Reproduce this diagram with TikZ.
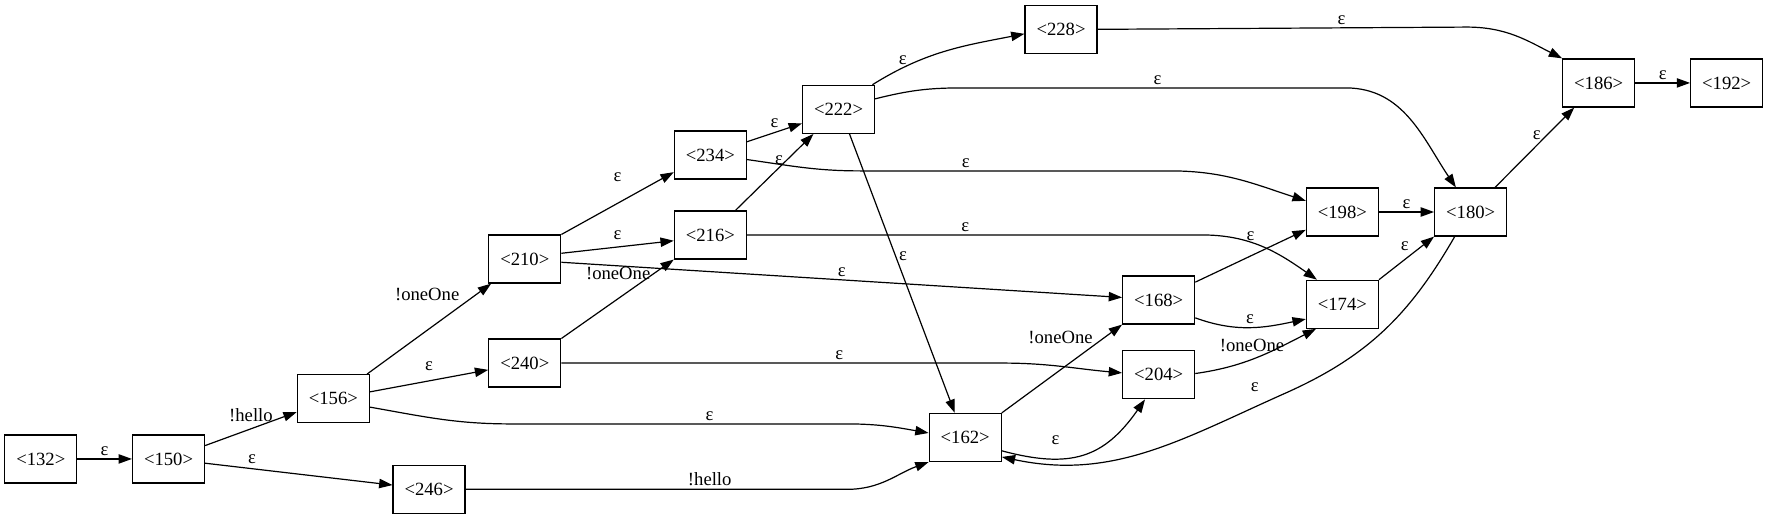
\documentclass[tikz,border=0pt]{standalone}
\usepackage{fontspec}
\setmainfont{Liberation Serif}
\usetikzlibrary{arrows.meta}
\usetikzlibrary{positioning}
\tikzset{>={Triangle[length=10pt,width=7pt]}, on grid, font=\fontsize{14}{14}\selectfont}
\tikzstyle{state} = [draw, rectangle, minimum width=54pt, minimum height=36pt, inner sep=0pt]
\tikzstyle{lbl} = [inner sep=2pt]

\begin{document}
\begin{tikzpicture}[line width=0.9pt]
    \useasboundingbox (0,0) rectangle (1326pt,-389.25pt);
    \node [state] at (30.6pt,-344.2pt) (s132) {<132>};
    \node [state, right=95.8pt of s132] (s150) {<150>};
    \node [state, above right=45.2pt and 123.6pt of s150] (s156) {<156>};
    \node [state, below right=22.8pt and 195.4pt of s150] (s246) {<246>};
    \node [state, above right=104.7pt and 143.6pt of s156] (s210) {<210>};
    \node [state, above right=26.7pt and 143.6pt of s156] (s240) {<240>};
    \node [state, above right=78pt and 139.2pt of s210] (s234) {<234>};
    \node [state, below=59.9pt of s234] (s216) {<216>};
    \node [state, above right=34.3pt and 96.1pt of s234] (s222) {<222>};
    \node [state, above right=60pt and 166.9pt of s222] (s228) {<228>};
    \node [state, below right=246.1pt and 95pt of s222] (s162) {<162>};
    \node [state, above right=103.1pt and 145.1pt of s162] (s168) {<168>};
    \node [state, below=56.1pt of s168] (s204) {<204>};
    \node [state, above right=66pt and 137.8pt of s168] (s198) {<198>};
    \node [state, below=69.2pt of s198] (s174) {<174>};
    \node [state, right=96.2pt of s198] (s180) {<180>};
    \node [state, above right=96.8pt and 96pt of s180] (s186) {<186>};
    \node [state, right=96pt of s186] (s192) {<192>};

    \draw [->] (s132) -- node [lbl, above] {ε} (s150);
    \draw [->] (s150) -- node [lbl, above=3pt] {!hello} (s156);
    \draw [->] (s150) -- node [lbl, above=1pt, pos=.25] {ε} (s246);
    \draw [->] (s156) -- node [lbl, above left, pos=.77] {!oneOne} (s210);
    \draw [->] (s156) -- node [lbl, above=5.5pt] {ε} (s240);
    \draw [->] (s156.-13) to [out=-10, in=180] ++(106pt,-12.6pt) -- node [lbl, above, pos=.59] {ε} ++(252pt,0) to [out=0, in=170] (s162.173);
    \draw [->] (s246.east) -- node [lbl, above, pos=.64] {!hello} ++(286pt,0) to [out=0, in=200] (s162.south west);
    \draw [->] (s210.north east) -- node [lbl, above=14pt] {ε} (s234.205);
    \draw [->] (s210.9) -- node [lbl, above=3pt] {ε} (s216.189);
    \draw [->] (s210.-5) -- node [lbl, above] {ε} (s168.176);
    \draw [->] (s240.north east) -- node [lbl, left, pos=.82] {!oneOne} (s216.south west);
    \draw [->] (s240.east) -- node [lbl, above, pos=.63] {ε} ++(330.7pt,0) to [out=0, in=175] (s204.177);
    \draw [->] (s234.20) -- node [lbl, above=1.5pt] {ε} (s222.201);
    \draw [->] (s234.-7) to [out=-8, in=180] ++(85pt,-8.5pt) -- node [lbl, above, pos=.34] {ε} ++(232.5pt,0) to [out=0, in=162] (s198.163);
    \draw [->] (s216) -- node [lbl, left, pos=.65] {ε} (s222);
    \draw [->] (s216.east) -- node [lbl, above, pos=.48] {ε} ++(341pt,0) to [out=0, in=145] (s174.136);
    \draw [->] (s222.36) to [out=32, in=191] node [lbl, above, pos=.2] {ε} (s228.187);
    \draw [->] (s222.16) to [out=14, in=180] ++(65pt,8.2pt) -- node [lbl, above, pos=.51] {ε} ++(288pt,0) to [out=0, in=124] (s180.121);
    \draw [->] (s222.-66) -- node [lbl, right, pos=.44] {ε} (s162.113);
    \draw [->] (s228.east) -- node [lbl, above, pos=.66] {ε} ++(277pt,1.7pt) to [out=0, in=153] (s186.north west);
    \draw [->] (s162.north east) -- node [lbl, left=7pt, pos=.86] {!oneOne} (s168.south west);
    \draw [->] (s162.-20) to [out=-15, in=-125, looseness=1.2] node [lbl, above=8pt, pos=.3] {ε} (s204.-119);
    \draw [->] (s168.26) -- node [lbl, above=9pt] {ε} (s198.206);
    \draw [->] (s168.-26) to [out=-20, in=192] node [lbl, above] {ε} (s174.-158);
    \draw [->] (s204.2) to [out=8, in=-153] node [lbl, above=3.5pt, pos=.45] {!oneOne} (s174.-137);
    \draw [->] (s198) -- node [lbl, above] {ε} (s180);
    \draw [->] (s174.north east) -- node [lbl, above left, pos=.6] {ε} (s180.south west);
    \draw [->] (s180) -- node [lbl, left=2pt, pos=.65] {ε} (s186);
    \draw [->] (s186) -- node [lbl, above] {ε} (s192);
    \draw [->] (s180.-123) to [out=-120, in=24] ++(-127.4pt,-117.6pt) to [out=204, in=-12] node [lbl, above=9pt, pos=.1] {ε} (s162.-28);
\end{tikzpicture}
\end{document}
